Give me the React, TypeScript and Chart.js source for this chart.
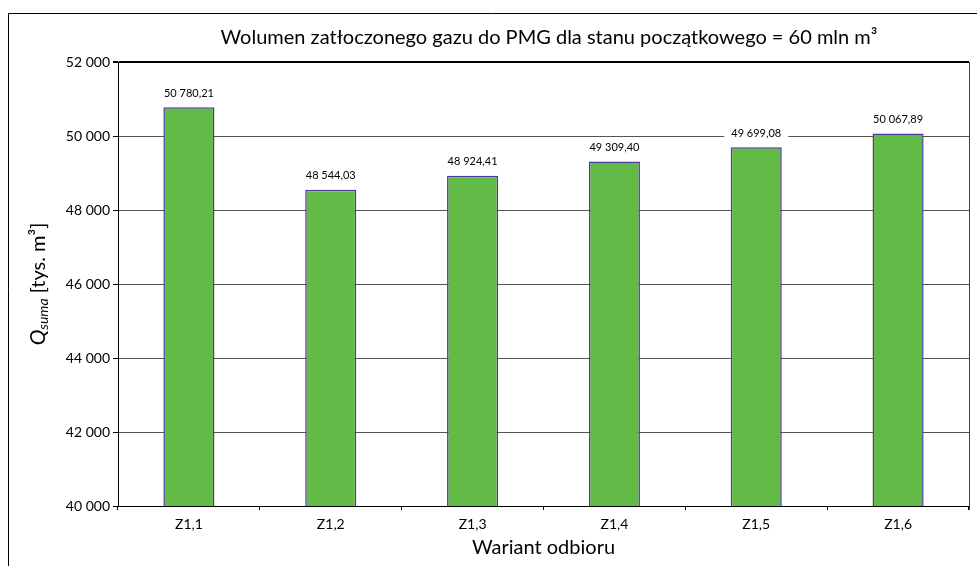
import { useEffect, useRef } from "react";
import { Chart, registerables } from "chart.js";

Chart.register(...registerables);

const categories = ["Z1,1", "Z1,2", "Z1,3", "Z1,4", "Z1,5", "Z1,6"];
const values = [50780.21, 48544.03, 48924.41, 49309.4, 49699.08, 50067.89];
const valueLabels = ["50 780,21", "48 544,03", "48 924,41", "49 309,40", "49 699,08", "50 067,89"];
const yMin = 40000;
const yMax = 52000;
const yStep = 2000;
const titleText = "Wolumen zatłoczonego gazu do PMG dla stanu początkowego = 60 mln m³";
const xTitleText = "Wariant odbioru";
const yTitleMain = "Q";
const yTitleSub = "suma";
const yTitleRest = " [tys. m³]";

const FONT = "Lato";

const fmt = (v: number) => String(v).replace(/\B(?=(\d{3})+(?!\d))/g, " ");

const customPlugin = {
  id: "customDecor",
  beforeDraw(chart: any) {
    const ctx = chart.ctx;
    ctx.save();
    ctx.fillStyle = "#fff";
    ctx.fillRect(0, 0, chart.width, chart.height);
    ctx.strokeStyle = "#000";
    ctx.lineWidth = 1;
    ctx.beginPath();
    ctx.moveTo(8.5, chart.height);
    ctx.lineTo(8.5, 13.5);
    ctx.lineTo(chart.width, 13.5);
    ctx.stroke();
    ctx.restore();
  },
  afterDatasetsDraw(chart: any) {
    const ctx = chart.ctx;
    const meta = chart.getDatasetMeta(0);
    ctx.save();
    ctx.font = `11px ${FONT}`;
    ctx.textAlign = "center";
    ctx.textBaseline = "middle";
    meta.data.forEach((bar: any, i: number) => {
      const label = valueLabels[i];
      const w = ctx.measureText(label).width + 14;
      const cy = bar.y - 14;
      ctx.fillStyle = "#fff";
      ctx.fillRect(bar.x - w / 2, cy - 7, w, 14);
      ctx.fillStyle = "#000";
      ctx.fillText(label, bar.x, cy);
    });
    ctx.restore();
  },
  afterDraw(chart: any) {
    const ctx = chart.ctx;
    const a = chart.chartArea;
    ctx.save();
    // right border of plot area
    ctx.strokeStyle = "#404040";
    ctx.lineWidth = 1;
    ctx.beginPath();
    ctx.moveTo(Math.round(a.right) + 0.5, a.top);
    ctx.lineTo(Math.round(a.right) + 0.5, a.bottom + 4);
    ctx.stroke();

    ctx.fillStyle = "#000";
    // chart title
    ctx.font = `20px ${FONT}`;
    ctx.textAlign = "center";
    ctx.textBaseline = "middle";
    ctx.fillText(titleText, 549, 38);
    // x title
    ctx.fillText(xTitleText, (a.left + a.right) / 2, 548);
    // y title (rotated, mixed formatting)
    const cx = 39;
    const cy = (a.top + a.bottom) / 2;
    ctx.translate(cx, cy);
    ctx.rotate(-Math.PI / 2);
    ctx.textAlign = "left";
    ctx.textBaseline = "alphabetic";
    const fMain = `italic 21px ${FONT}`;
    const fSub = `italic 14px ${FONT}`;
    const fRest = `20px ${FONT}`;
    ctx.font = fMain;
    const w1 = ctx.measureText(yTitleMain).width;
    ctx.font = fSub;
    const w2 = ctx.measureText(yTitleSub).width;
    ctx.font = fRest;
    const w3 = ctx.measureText(yTitleRest).width;
    let x = -(w1 + w2 + w3) / 2;
    const base = 6;
    ctx.font = fMain;
    ctx.fillText(yTitleMain, x, base);
    x += w1;
    ctx.font = fSub;
    ctx.fillText(yTitleSub, x, base + 3);
    x += w2;
    ctx.font = fRest;
    ctx.fillText(yTitleRest, x, base);
    ctx.restore();
  },
};

export default function App() {
  const ref = useRef<HTMLCanvasElement | null>(null);

  useEffect(() => {
    if (!ref.current) return;
    const chart = new Chart(ref.current, {
      type: "bar",
      data: {
        labels: categories,
        datasets: [
          {
            data: values,
            backgroundColor: "#62BB46",
            borderColor: "#4A3A9C",
            borderWidth: 1.5,
            borderSkipped: false,
            barPercentage: 0.36,
            categoryPercentage: 1,
          },
        ],
      },
      options: {
        animation: false,
        responsive: false,
        maintainAspectRatio: false,
        layout: { padding: { top: 62, right: 8, left: 0, bottom: 0 } },
        plugins: {
          legend: { display: false },
          tooltip: { enabled: false },
          title: { display: false },
        },
        scales: {
          x: {
            afterFit: (s: any) => {
              s.height = 60;
            },
            grid: {
              offset: true,
              drawOnChartArea: false,
              drawTicks: true,
              tickLength: 4,
              tickColor: "#000",
            },
            border: { color: "#000", width: 1 },
            ticks: {
              color: "#000",
              font: { family: FONT, size: 14 },
              padding: 6,
            },
          },
          y: {
            min: yMin,
            max: yMax,
            afterFit: (s: any) => {
              s.width = 118;
            },
            grid: {
              color: (c: any) => (c.tick && c.tick.value === yMax ? "#000" : "#555"),
              lineWidth: (c: any) => (c.tick && c.tick.value === yMax ? 2 : 1),
              tickLength: 5,
              tickColor: "#000",
            },
            border: { color: "#000", width: 1 },
            ticks: {
              stepSize: yStep,
              color: "#000",
              font: { family: FONT, size: 14 },
              padding: 3,
              callback: (v: any) => fmt(Number(v)),
            },
          },
        },
      },
      plugins: [customPlugin],
    });
    return () => chart.destroy();
  }, []);

  return (
    <div style={{ position: "absolute", left: 0, top: 0, width: 977, height: 566, overflow: "hidden" }}>
      <canvas ref={ref} width={977} height={566} style={{ display: "block" }} />
    </div>
  );
}
